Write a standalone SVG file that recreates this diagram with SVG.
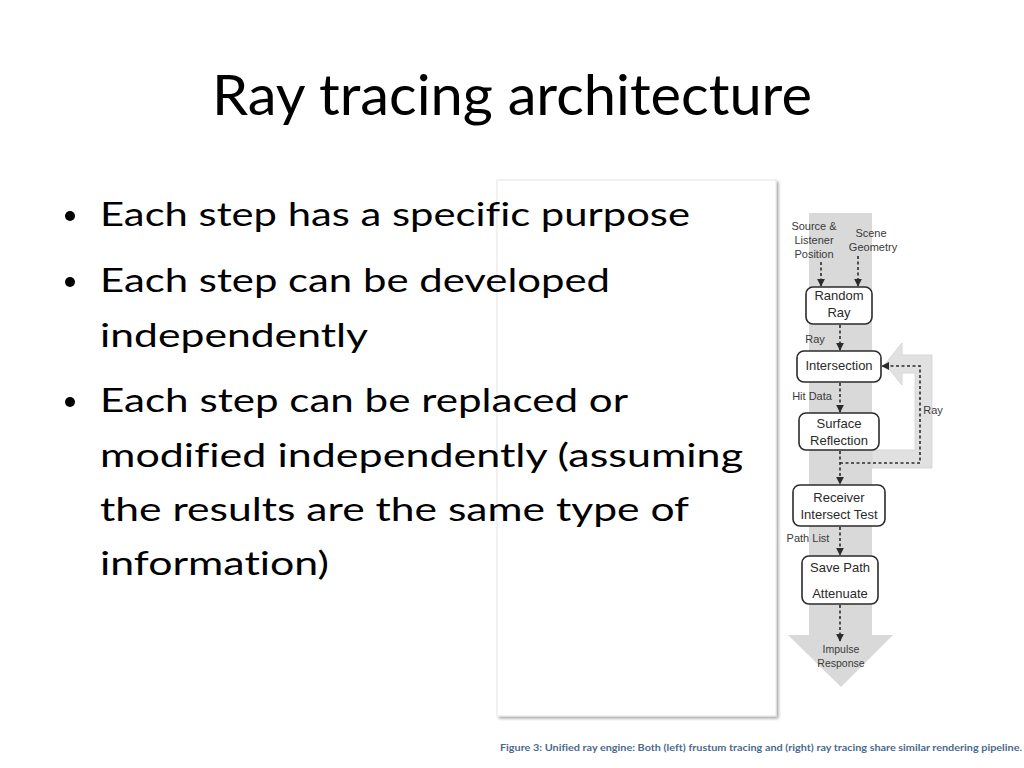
<svg xmlns="http://www.w3.org/2000/svg" width="1024" height="768" viewBox="0 0 1024 768">
<defs>
<style>
.title{font-family:Lato,"Open Sans","Liberation Sans",sans-serif;font-size:57px;fill:#000}
.bul{font-family:Lato,"Open Sans","Liberation Sans",sans-serif;font-size:33px;fill:#000;font-variant-ligatures:none}
.nt{font-family:"Liberation Sans",Arial,sans-serif;font-size:13px;fill:#2a2a2a;text-anchor:middle}
.lb{font-family:"Liberation Sans",Arial,sans-serif;font-size:11px;fill:#3a3a3a;text-anchor:middle}
.node{fill:#fff;stroke:#2b2b2b;stroke-width:1.6}
.dot{fill:none;stroke:#2b2b2b;stroke-width:1.6;stroke-dasharray:3 2.5}
.cap{font-family:Lato,"Liberation Sans",sans-serif;font-size:10px;font-weight:bold;fill:#4a6a8c;font-variant-ligatures:none}
</style>
<marker id="ah" viewBox="0 0 10 10" refX="9" refY="5" markerWidth="5" markerHeight="5" orient="auto">
<path d="M0,0 L10,5 L0,10 z" fill="#2b2b2b"/>
</marker>
<filter id="sh" x="-5%" y="-5%" width="115%" height="115%">
<feGaussianBlur in="SourceAlpha" stdDeviation="1.5"/>
<feOffset dx="1.5" dy="2" result="o"/>
<feComponentTransfer><feFuncA type="linear" slope="0.35"/></feComponentTransfer>
<feMerge><feMergeNode/><feMergeNode in="SourceGraphic"/></feMerge>
</filter>
</defs>
<rect width="1024" height="768" fill="#fff"/>
<rect x="497" y="180" width="279" height="536" fill="#fff" stroke="#e6e6e6" stroke-width="1" filter="url(#sh)"/>
<text class="title" x="512" y="115" text-anchor="middle" textLength="600" lengthAdjust="spacingAndGlyphs">Ray tracing architecture</text>
<g id="bullets" class="bul">
<circle cx="70" cy="216" r="5"/>
<text x="100" y="226" textLength="590" lengthAdjust="spacingAndGlyphs">Each step has a specific purpose</text>
<circle cx="70" cy="282" r="5"/>
<text x="100" y="292" textLength="510" lengthAdjust="spacingAndGlyphs">Each step can be developed</text>
<text x="100" y="347" textLength="268" lengthAdjust="spacingAndGlyphs">independently</text>
<circle cx="70" cy="402" r="5"/>
<text x="100" y="412" textLength="528" lengthAdjust="spacingAndGlyphs">Each step can be replaced or</text>
<text x="100" y="467" textLength="643" lengthAdjust="spacingAndGlyphs">modified independently (assuming</text>
<text x="100" y="521" textLength="589" lengthAdjust="spacingAndGlyphs">the results are the same type of</text>
<text x="100" y="575" textLength="229" lengthAdjust="spacingAndGlyphs">information)</text>
</g>
<g id="bands">
<polygon points="809,213 872,213 872,635 893,635 841,687 788,635 809,635" fill="#d9d9d9"/>
<polygon points="872,450 915,450 915,373 902,373 902,385 885,364 902,343 902,355 932,355 932,468 872,468" fill="#e1e1e1" stroke="#d2d2d2" stroke-width="0.8"/>
</g>
<g id="connectors">
<line class="dot" x1="821" y1="262" x2="821" y2="286" marker-end="url(#ah)"/>
<line class="dot" x1="858" y1="256" x2="858" y2="286" marker-end="url(#ah)"/>
<line class="dot" x1="840" y1="325" x2="840" y2="350" marker-end="url(#ah)"/>
<line class="dot" x1="840" y1="383" x2="840" y2="412" marker-end="url(#ah)"/>
<line class="dot" x1="840" y1="451" x2="840" y2="484" marker-end="url(#ah)"/>
<line class="dot" x1="840" y1="527" x2="840" y2="555" marker-end="url(#ah)"/>
<line class="dot" x1="840" y1="605" x2="840" y2="641" marker-end="url(#ah)"/>
<polyline class="dot" points="840,463 920,463 920,366 882,366" marker-end="url(#ah)"/>
</g>
<g id="labels">
<text class="lb" x="814" y="230">Source &amp;</text>
<text class="lb" x="814" y="244">Listener</text>
<text class="lb" x="814" y="258">Position</text>
<text class="lb" x="871" y="237">Scene</text>
<text class="lb" x="873" y="251">Geometry</text>
<text class="lb" x="815" y="343">Ray</text>
<text class="lb" x="812" y="400">Hit Data</text>
<text class="lb" x="808" y="542">Path List</text>
<text class="lb" x="933" y="414">Ray</text>
<text class="lb" x="841" y="653" style="font-size:10.5px">Impulse</text>
<text class="lb" x="841" y="667" style="font-size:10.5px">Response</text>
</g>
<g id="n-random">
<rect class="node" x="806" y="287" width="66" height="37" rx="7"/>
<text class="nt" x="839" y="300">Random</text>
<text class="nt" x="839" y="317">Ray</text>
</g>
<g id="n-intersection">
<rect class="node" x="797" y="351" width="84" height="31" rx="7"/>
<text class="nt" x="839" y="370">Intersection</text>
</g>
<g id="n-surface">
<rect class="node" x="799" y="413" width="80" height="37" rx="7"/>
<text class="nt" x="839" y="428">Surface</text>
<text class="nt" x="839" y="445">Reflection</text>
</g>
<g id="n-receiver">
<rect class="node" x="793" y="485" width="92" height="41" rx="7"/>
<text class="nt" x="839" y="502">Receiver</text>
<text class="nt" x="839" y="519">Intersect Test</text>
</g>
<g id="n-save">
<rect class="node" x="802" y="556" width="76" height="48" rx="7"/>
<text class="nt" x="840" y="572">Save Path</text>
<text class="nt" x="840" y="598">Attenuate</text>
</g>
<text class="cap" x="500" y="751" textLength="522" lengthAdjust="spacingAndGlyphs">Figure 3: Unified ray engine: Both (left) frustum tracing and (right) ray tracing share similar rendering pipeline.</text>
</svg>
